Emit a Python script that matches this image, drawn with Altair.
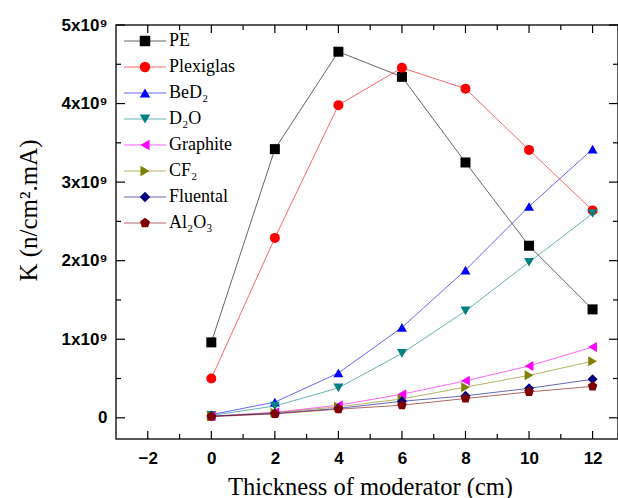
import altair as alt
import pandas as pd

# ---- data ----
thickness = [0, 2, 4, 6, 8, 10, 12]
names = ["PE", "Plexiglas", "BeD₂", "D₂O", "Graphite", "CF₂", "Fluental", "Al₂O₃"]
pe = [0.96e9, 3.42e9, 4.66e9, 4.34e9, 3.25e9, 2.19e9, 1.38e9]
plexiglas = [0.50e9, 2.29e9, 3.98e9, 4.455e9, 4.19e9, 3.41e9, 2.64e9]
bed2 = [0.04e9, 0.20e9, 0.57e9, 1.15e9, 1.88e9, 2.69e9, 3.42e9]
d2o = [0.03e9, 0.15e9, 0.38e9, 0.82e9, 1.36e9, 1.98e9, 2.60e9]
graphite = [0.02e9, 0.07e9, 0.16e9, 0.30e9, 0.47e9, 0.66e9, 0.90e9]
cf2 = [0.02e9, 0.065e9, 0.14e9, 0.24e9, 0.39e9, 0.54e9, 0.72e9]
fluental = [0.02e9, 0.055e9, 0.12e9, 0.21e9, 0.28e9, 0.375e9, 0.49e9]
al2o3 = [0.015e9, 0.05e9, 0.11e9, 0.16e9, 0.245e9, 0.33e9, 0.40e9]

colors = ["#000000", "#FF0000", "#0000FF", "#008080", "#FF00FF", "#808000", "#000080", "#800000"]
pentagon = "M0,-1L0.951,-0.309L0.588,0.809L-0.588,0.809L-0.951,-0.309Z"
shapes = ["square", "circle", "triangle-up", "triangle-down", "triangle-left",
          "triangle-right", "diamond", pentagon]

x_major = [-2, 0, 2, 4, 6, 8, 10, 12]
x_minor = [-1, 1, 3, 5, 7, 9, 11]
y_major = [0, 1e9, 2e9, 3e9, 4e9, 5e9]
y_minor = [0.5e9, 1.5e9, 2.5e9, 3.5e9, 4.5e9]

series = [pe, plexiglas, bed2, d2o, graphite, cf2, fluental, al2o3]
rows = []
for n, vals in zip(names, series):
    for t, v in zip(thickness, vals):
        rows.append({"name": n, "t": t, "K": v})
df = pd.DataFrame(rows)

W, H = 502, 414
xscale = alt.Scale(domain=[-3, 12.8], nice=False, zero=False)
yscale = alt.Scale(domain=[-0.27e9, 5e9], nice=False, zero=False)

serif = "Liberation Serif"
sans = "Liberation Sans"

XT = "Thickness of moderator (cm)"
YT = "K (n/cm².mA)"

x_axis = alt.Axis(values=x_major, title=XT, ticks=False,
                  domain=False, grid=False, labelFont=sans, labelFontWeight="bold",
                  labelFontSize=17, labelColor="black", labelPadding=11, labelFlush=False,
                  titleFont=serif, titleFontSize=24.5, titleFontWeight="normal",
                  titleColor="black", titleBaseline="middle", titleY=48, titleX=254)
y_axis = alt.Axis(values=y_major, title=YT, ticks=False, domain=False,
                  grid=False, labelFont=sans, labelFontWeight="bold", labelFontSize=17,
                  labelColor="black", labelPadding=9, labelFlush=False,
                  labelExpr="datum.value == 0 ? '0' : format(datum.value / 1e9, 'd') + 'x10⁹'",
                  titleFont=serif, titleFontSize=25, titleFontWeight="normal",
                  titleColor="black", titleBaseline="middle", titleAlign="center",
                  titleX=-88, titleY=185, titleAngle=-90)

# legend built from two overlaid legends: line segments with labels, markers on top
line_legend = alt.Legend(title=None, orient="none", legendX=20, legendY=7,
                         labelFont=serif, labelFontSize=18, labelColor="black",
                         symbolType="M-4,0H4", symbolSize=110, symbolStrokeWidth=1,
                         rowPadding=8, labelOffset=15, padding=0, zindex=0)
mark_legend = alt.Legend(title=None, orient="none", legendX=20, legendY=7,
                         labelFont=serif, labelFontSize=18, labelOpacity=0,
                         labelExpr="''",
                         symbolSize=110, rowPadding=8, labelOffset=15,
                         padding=0, symbolOpacity=1, symbolStrokeWidth=0, zindex=1)

base = alt.Chart(df)

lines = base.mark_line(strokeWidth=1, opacity=0.6).encode(
    x=alt.X("t:Q", scale=xscale, axis=x_axis),
    y=alt.Y("K:Q", scale=yscale, axis=y_axis),
    color=alt.Color("name:N", scale=alt.Scale(domain=names, range=colors), legend=line_legend),
)

points = base.mark_point(filled=True, size=100, opacity=1).encode(
    x=alt.X("t:Q", scale=xscale, axis=x_axis),
    y=alt.Y("K:Q", scale=yscale, axis=y_axis),
    color=alt.Color("name:N", scale=alt.Scale(domain=names, range=colors), legend=mark_legend),
    shape=alt.Shape("name:N", scale=alt.Scale(domain=names, range=shapes), legend=mark_legend),
)

def xticks(vals, length, top):
    d = pd.DataFrame({"t": vals})
    if top:
        y1, y2 = 0, length
    else:
        y1, y2 = H, H - length
    return alt.Chart(d).mark_rule(color="black", strokeWidth=1.2).encode(
        x=alt.X("t:Q", scale=xscale, axis=x_axis),
        y=alt.value(y1), y2=alt.value(y2))

def yticks(vals, length, right):
    d = pd.DataFrame({"K": vals})
    if right:
        x1, x2 = W, W - length
    else:
        x1, x2 = 0, length
    return alt.Chart(d).mark_rule(color="black", strokeWidth=1.2).encode(
        y=alt.Y("K:Q", scale=yscale, axis=y_axis),
        x=alt.value(x1), x2=alt.value(x2))

tick_layers = [
    xticks(x_major, 8, False), xticks(x_minor, 5, False),
    xticks(x_major, 8, True), xticks(x_minor, 5, True),
    yticks(y_major, 9, False), yticks(y_minor, 5, False),
    yticks(y_major, 9, True), yticks(y_minor, 5, True),
]

chart = alt.layer(lines, points, *tick_layers).resolve_scale(
    color="independent", shape="independent"
).properties(
    width=W, height=H,
    autosize=alt.AutoSizeParams(type="none"),
    padding={"left": 116, "top": 25, "right": 0, "bottom": 59},
    background="white",
).configure_view(stroke="#222222", strokeWidth=1.5)

chart.save("out.html", embed_options={"renderer": "svg", "actions": False})
